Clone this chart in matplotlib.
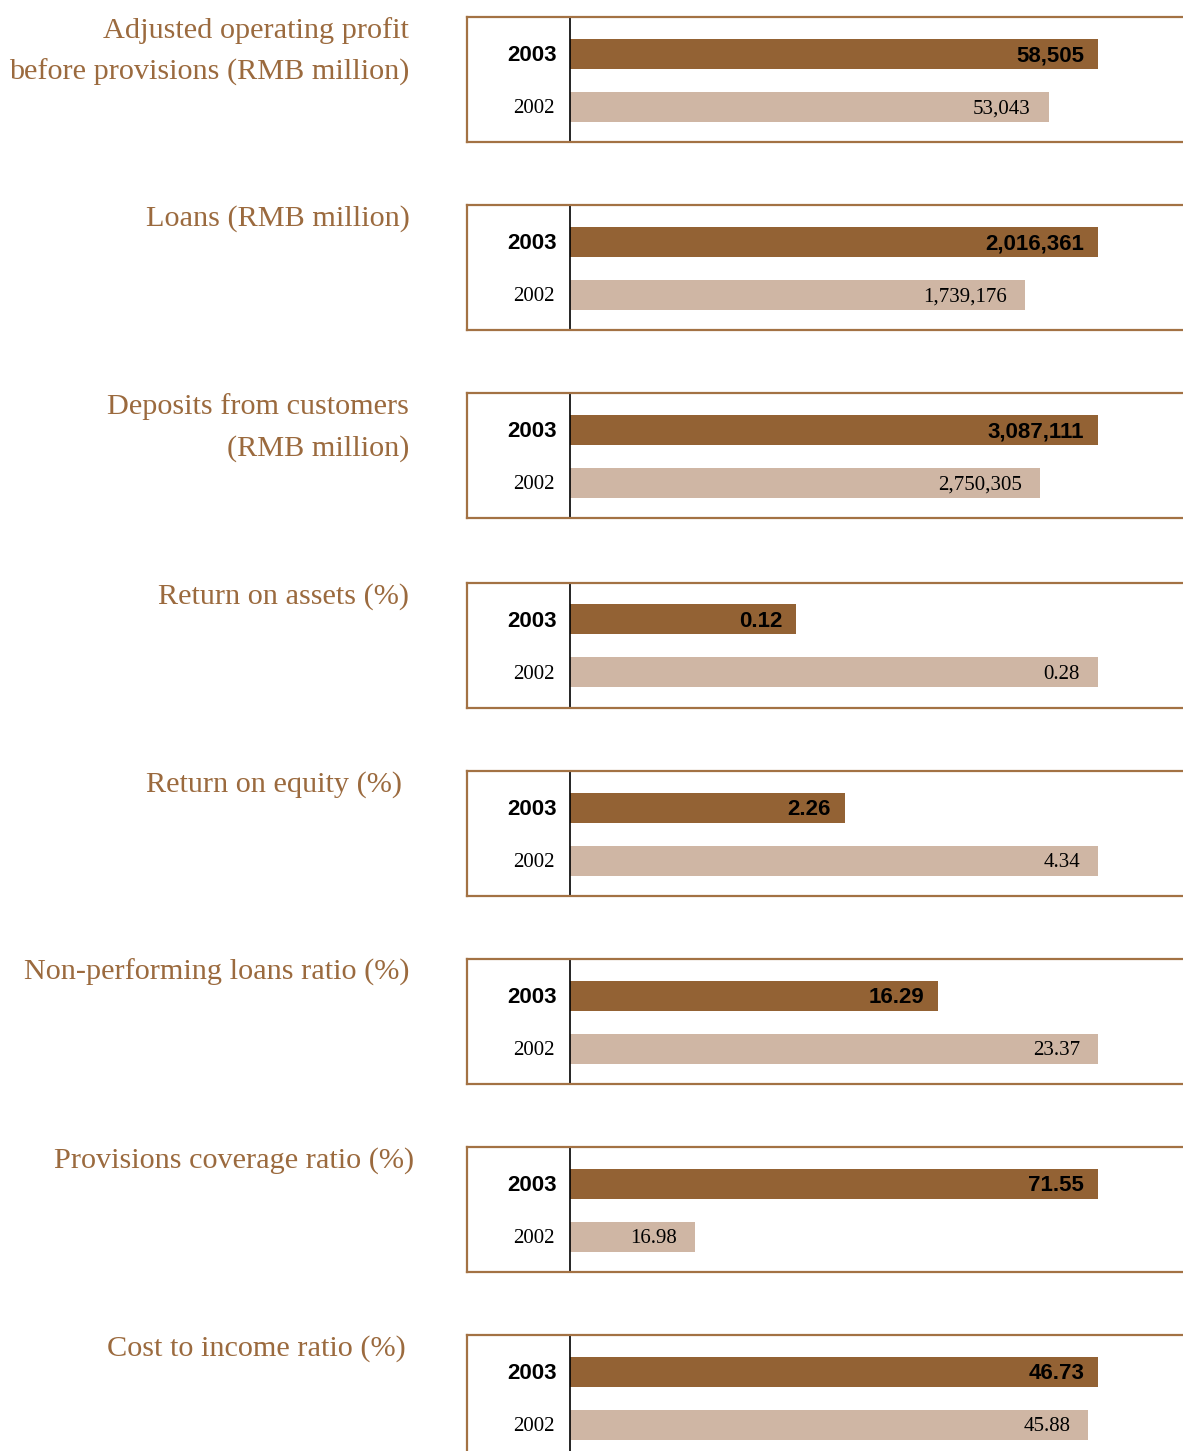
import matplotlib
matplotlib.use("Agg")
import matplotlib.pyplot as plt

# ---- data ----
titles = [
    "Adjusted operating profit\nbefore provisions (RMB million)",
    "Loans (RMB million)",
    "Deposits from customers\n(RMB million)",
    "Return on assets (%)",
    "Return on equity (%)",
    "Non-performing loans ratio (%)",
    "Provisions coverage ratio (%)",
    "Cost to income ratio (%)",
]
values_2003 = [58505, 2016361, 3087111, 0.12, 2.26, 16.29, 71.55, 46.73]
values_2002 = [53043, 1739176, 2750305, 0.28, 4.34, 23.37, 16.98, 45.88]
decimals = [0, 0, 0, 2, 2, 2, 2, 2]
years = ["2003", "2002"]

# ---- layout / style ----
W, H = 1183, 1451
fig = plt.figure(figsize=(W / 100, H / 100), dpi=100)

DARK = "#936234"
LIGHT = "#cfb6a4"
TITLE_C = "#9b6a3e"
EDGE = "#a37244"

panel_tops = [17, 205, 393, 583, 771, 959, 1147, 1335]
title_right = [409, 410, 409, 409, 402, 409, 414, 406]
box_h = 125
box_left, axis_x, bar_max_x, box_right = 467, 570, 1098, 1200
bar_centers = [36.5, 89.5]
bar_h = 30

SERIF = ["Liberation Serif", "DejaVu Serif"]
SANS = ["Liberation Sans", "DejaVu Sans"]


def fmt(v, d):
    return f"{v:,.{d}f}"


for i, title in enumerate(titles):
    top = panel_tops[i]
    ax = fig.add_axes([box_left / W, 1 - (top + box_h) / H,
                       (box_right - box_left) / W, box_h / H])
    v03, v02 = values_2003[i], values_2002[i]
    vmax = max(v03, v02)
    scale = (bar_max_x - axis_x) / vmax
    ax.set_xlim(-(axis_x - box_left) / scale, (box_right - axis_x) / scale)
    ax.set_ylim(box_h, 0)
    ax.barh(bar_centers, [v03, v02], height=bar_h, color=[DARK, LIGHT], left=0)
    ax.axvline(0, color="black", lw=1.2)
    ax.set_xticks([])
    ax.set_yticks([])
    for s in ax.spines.values():
        s.set_color(EDGE)
        s.set_linewidth(1.6)

    # year labels
    ax.annotate(years[0], xy=(0, bar_centers[0]), xytext=(-9.5, -1.5),
                textcoords="offset points", ha="right", va="center",
                fontsize=16, fontweight="bold", family=SANS, color="black")
    ax.annotate(years[1], xy=(0, bar_centers[1]), xytext=(-11, -1.5),
                textcoords="offset points", ha="right", va="center",
                fontsize=15, family=SERIF, color="black")
    # value labels
    ax.annotate(fmt(v03, decimals[i]), xy=(v03, bar_centers[0]), xytext=(-10, -1.5),
                textcoords="offset points", ha="right", va="center",
                fontsize=16, fontweight="bold", family=SANS, color="black")
    ax.annotate(fmt(v02, decimals[i]), xy=(v02, bar_centers[1]), xytext=(-13, -1.5),
                textcoords="offset points", ha="right", va="center",
                fontsize=15, family=SERIF, color="black")

    # title
    for j, line in enumerate(title.split("\n")):
        base_y = top + 21 + j * 42
        fig.text(title_right[i] / W, 1 - base_y / H, line, ha="right",
                 va="baseline", fontsize=21.8, family=SERIF, color=TITLE_C)

fig.savefig("out.png", dpi=100)
